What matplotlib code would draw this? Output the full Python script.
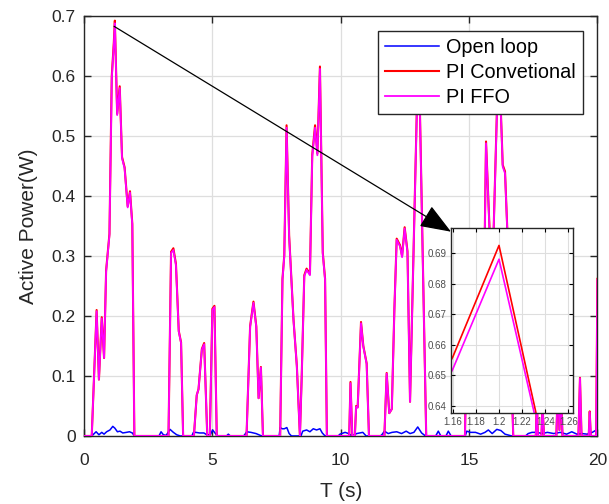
import matplotlib

matplotlib.use("Agg")
import matplotlib.pyplot as plt
from matplotlib.patches import FancyArrowPatch
from matplotlib.transforms import IdentityTransform

plt.rcParams["font.family"] = ["Liberation Sans", "DejaVu Sans"]

# ---- data ------------------------------------------------------------------
t_open = [0.00, 0.30, 0.47, 0.58, 0.69, 0.78, 0.88, 1.01, 1.12, 1.20, 1.30, 1.40, 1.51, 1.65,
          1.77, 1.88, 1.96, 2.92, 3.00, 3.09, 3.20, 3.35, 3.48, 3.61, 3.75, 4.20, 4.26, 4.35,
          4.50, 4.67, 4.78, 4.92, 5.01, 5.10, 5.20, 5.55, 5.62, 5.70, 6.22, 6.34, 6.50, 6.70,
          6.92, 7.60, 7.64, 7.72, 7.80, 7.90, 7.99, 8.08, 8.45, 8.52, 8.67, 8.80, 8.93, 9.06,
          9.19, 9.28, 9.39, 9.90, 9.97, 10.17, 10.30, 10.45, 10.62, 10.86, 10.99, 11.55, 11.62,
          11.70, 11.85, 12.00, 12.18, 12.37, 12.55, 12.70, 12.85, 13.00, 13.15, 13.30, 13.70,
          13.80, 13.90, 14.10, 14.19, 14.30, 14.85, 14.91, 15.05, 15.25, 15.45, 15.62, 15.75,
          15.90, 16.08, 16.24, 16.40, 16.66, 17.20, 17.30, 17.45, 17.65, 17.85, 18.05, 18.30,
          18.55, 18.80, 19.00, 19.20, 19.40, 19.60, 19.80, 20.00]
p_open = [0.000, 0.000, 0.007, 0.002, 0.006, 0.003, 0.007, 0.010, 0.016, 0.013, 0.007, 0.008,
          0.005, 0.006, 0.007, 0.005, 0.000, 0.000, 0.007, 0.002, 0.001, 0.011, 0.006, 0.002,
          0.000, 0.000, 0.006, 0.006, 0.005, 0.005, 0.002, 0.002, 0.010, 0.005, 0.000, 0.000,
          0.003, 0.000, 0.000, 0.007, 0.006, 0.004, 0.000, 0.000, 0.014, 0.012, 0.012, 0.014,
          0.004, 0.000, 0.000, 0.008, 0.010, 0.007, 0.012, 0.010, 0.012, 0.005, 0.000, 0.000,
          0.003, 0.006, 0.004, 0.000, 0.004, 0.006, 0.000, 0.000, 0.003, 0.008, 0.004, 0.006,
          0.007, 0.004, 0.008, 0.004, 0.006, 0.015, 0.005, 0.000, 0.000, 0.008, 0.000, 0.000,
          0.008, 0.000, 0.000, 0.008, 0.006, 0.006, 0.003, 0.006, 0.010, 0.004, 0.011, 0.009,
          0.003, 0.000, 0.000, 0.004, 0.006, 0.006, 0.004, 0.006, 0.004, 0.006, 0.003, 0.007,
          0.003, 0.004, 0.003, 0.006, 0.011]

t_pi = [0.00, 0.30, 0.49, 0.58, 0.69, 0.78, 0.86, 0.99, 1.08, 1.16, 1.20, 1.24, 1.29, 1.39,
        1.48, 1.58, 1.70, 1.79, 1.88, 1.96, 3.29, 3.39, 3.48, 3.58, 3.69, 3.78, 3.86, 4.28,
        4.39, 4.46, 4.59, 4.68, 4.80, 4.90, 5.00, 5.08, 5.17, 6.33, 6.47, 6.60, 6.71, 6.80,
        6.89, 6.97, 7.64, 7.73, 7.80, 7.89, 7.99, 8.16, 8.29, 8.41, 8.48, 8.58, 8.67, 8.80,
        8.89, 9.00, 9.09, 9.19, 9.30, 9.39, 9.46, 10.33, 10.38, 10.45, 10.55, 10.60, 10.66,
        10.79, 10.88, 11.01, 11.10, 11.70, 11.79, 11.89, 11.99, 12.09, 12.18, 12.31, 12.39,
        12.49, 12.60, 12.70, 13.03, 13.33, 14.84, 14.95, 15.20, 15.45, 15.60, 15.66, 15.80,
        15.93, 16.15, 16.27, 16.31, 16.40, 16.50, 16.72, 17.60, 17.64, 17.68, 17.82, 17.86,
        17.92, 18.40, 18.46, 18.52, 18.58, 18.64, 19.26, 19.32, 19.38, 19.66, 19.70, 19.74,
        19.95, 20.00]
p_ffo = [0.000, 0.000, 0.208, 0.094, 0.196, 0.130, 0.274, 0.335, 0.596, 0.652, 0.688, 0.622,
         0.535, 0.580, 0.463, 0.446, 0.381, 0.406, 0.352, 0.000, 0.000, 0.305, 0.310, 0.285,
         0.174, 0.155, 0.000, 0.000, 0.068, 0.078, 0.144, 0.153, 0.000, 0.000, 0.210, 0.215,
         0.000, 0.000, 0.182, 0.222, 0.182, 0.063, 0.114, 0.000, 0.000, 0.260, 0.299, 0.514,
         0.332, 0.193, 0.116, 0.000, 0.099, 0.266, 0.277, 0.268, 0.466, 0.514, 0.468, 0.612,
         0.304, 0.260, 0.000, 0.000, 0.088, 0.000, 0.000, 0.049, 0.047, 0.188, 0.149, 0.120,
         0.000, 0.000, 0.104, 0.038, 0.045, 0.210, 0.327, 0.316, 0.298, 0.346, 0.306, 0.057,
         0.660, 0.000, 0.000, 0.280, 0.330, 0.200, 0.300, 0.488, 0.340, 0.300, 0.640, 0.500,
         0.449, 0.438, 0.330, 0.000, 0.000, 0.060, 0.000, 0.000, 0.050, 0.000, 0.000, 0.090,
         0.010, 0.070, 0.000, 0.000, 0.096, 0.000, 0.000, 0.040, 0.000, 0.000, 0.260]
p_conv = [0.000, 0.000, 0.210, 0.094, 0.198, 0.130, 0.276, 0.337, 0.600, 0.656, 0.6925, 0.624,
          0.537, 0.583, 0.465, 0.448, 0.383, 0.408, 0.354, 0.000, 0.000, 0.307, 0.313, 0.287,
          0.175, 0.156, 0.000, 0.000, 0.068, 0.078, 0.145, 0.155, 0.000, 0.000, 0.212, 0.217,
          0.000, 0.000, 0.183, 0.224, 0.183, 0.063, 0.115, 0.000, 0.000, 0.262, 0.301, 0.518,
          0.334, 0.194, 0.117, 0.000, 0.100, 0.268, 0.279, 0.270, 0.469, 0.518, 0.471, 0.616,
          0.306, 0.262, 0.000, 0.000, 0.090, 0.000, 0.000, 0.050, 0.048, 0.190, 0.150, 0.121,
          0.000, 0.000, 0.105, 0.038, 0.045, 0.212, 0.329, 0.318, 0.300, 0.348, 0.308, 0.057,
          0.664, 0.000, 0.000, 0.282, 0.332, 0.201, 0.302, 0.491, 0.342, 0.302, 0.644, 0.503,
          0.452, 0.441, 0.332, 0.000, 0.000, 0.061, 0.000, 0.000, 0.051, 0.000, 0.000, 0.091,
          0.010, 0.071, 0.000, 0.000, 0.097, 0.000, 0.000, 0.041, 0.000, 0.000, 0.262]

labels = ["Open loop", "PI Convetional", "PI FFO"]
colors = ["#0000ff", "#ff0000", "#ff00ff"]

# ---- figure -----------------------------------------------------------------
fig = plt.figure(figsize=(6.09, 5.04), dpi=100)
ax = fig.add_axes([0.138, 0.135, 0.843, 0.833])

ax.plot(t_open, p_open, color=colors[0], lw=1.1, label=labels[0], zorder=3)
ax.plot(t_pi, p_conv, color=colors[1], lw=1.5, label=labels[1], zorder=4)
ax.plot(t_pi, p_ffo, color=colors[2], lw=1.3, label=labels[2], zorder=5)

ax.set_xlim(0, 20)
ax.set_ylim(0, 0.7)
ax.set_xticks([0, 5, 10, 15, 20])
ax.set_yticks([0, 0.1, 0.2, 0.3, 0.4, 0.5, 0.6, 0.7])
ax.set_yticklabels(["0", "0.1", "0.2", "0.3", "0.4", "0.5", "0.6", "0.7"])
ax.tick_params(direction="in", length=5, width=1, top=True, right=True,
               labelsize=12.5, labelcolor="#262626", colors="#262626")
ax.tick_params(axis="x", pad=12)
ax.tick_params(axis="y", pad=6)
ax.grid(True, color="#dedede", lw=0.9)
ax.set_axisbelow(True)
for s in ax.spines.values():
    s.set_color("#262626")
    s.set_linewidth(1.0)
ax.set_xlabel("T (s)", fontsize=15, color="#262626", labelpad=10)
ax.set_ylabel("Active Power(W)", fontsize=15, color="#262626", labelpad=10)

leg = ax.legend(loc="upper right", bbox_to_anchor=(0.971, 0.964), borderaxespad=0,
                fontsize=14.3, frameon=True, fancybox=False, framealpha=1.0,
                handlelength=2.7, labelspacing=0.3, handletextpad=0.35, borderpad=0.35)
leg.get_frame().set_edgecolor("#262626")
leg.get_frame().set_linewidth(1.0)
leg.set_zorder(10)

# ---- zoom inset ---------------------------------------------------------------
axins = fig.add_axes([0.7406, 0.1806, 0.2003, 0.367])
axins.set_zorder(11)
axins.plot(t_pi, p_conv, color=colors[1], lw=1.2)
axins.plot(t_pi, p_ffo, color=colors[2], lw=1.2)
axins.set_xlim(1.1585, 1.264)
axins.set_ylim(0.6377, 0.6982)
axins.set_xticks([1.16, 1.18, 1.2, 1.22, 1.24, 1.26])
axins.set_xticklabels(["1.16", "1.18", "1.2", "1.22", "1.24", "1.26"])
axins.set_yticks([0.64, 0.65, 0.66, 0.67, 0.68, 0.69])
axins.tick_params(direction="in", length=3, width=0.8, top=True, right=True,
                  labelsize=7, labelcolor="#4d4d4d", pad=3)
axins.grid(True, color="#dedede", lw=0.8)
axins.set_axisbelow(True)
for s in axins.spines.values():
    s.set_color("#262626")
    s.set_linewidth(1.0)

# arrow from the main peak to the inset
arrow = FancyArrowPatch(posA=ax.transData.transform((1.17, 0.683)),
                        posB=axins.transAxes.transform((0.0, 0.98)),
                        transform=IdentityTransform(),
                        arrowstyle="-|>,head_length=1.3,head_width=0.5",
                        mutation_scale=15, color="black", lw=0.9, shrinkA=0, shrinkB=0)
arrow.set_zorder(12)
fig.patches.append(arrow)

fig.savefig("out.png", dpi=100)
